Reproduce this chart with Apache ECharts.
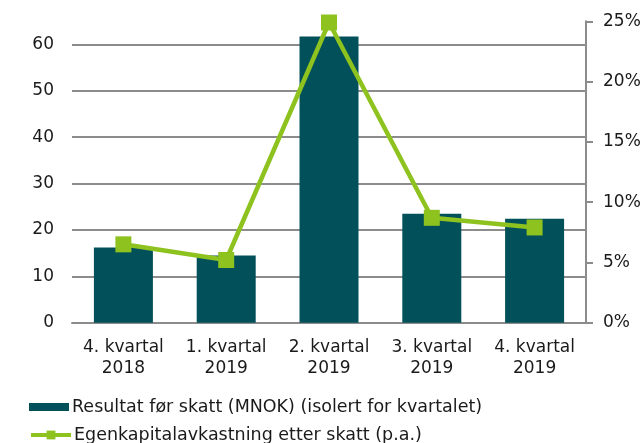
<!DOCTYPE html>
<html>
<head>
<meta charset="utf-8">
<script src="https://cdn.jsdelivr.net/npm/echarts@6/dist/echarts.min.js"></script>
<style>html,body{margin:0;padding:0;background:#fff;}#c{width:644px;height:443px;}</style>
</head>
<body>
<div id="c"></div>
<script>
const categories = ['4. kvartal\n2018', '1. kvartal\n2019', '2. kvartal\n2019', '3. kvartal\n2019', '4. kvartal\n2019'];
const resultat = [16.2, 14.5, 61.7, 23.5, 22.4];
const egenkapital = [6.5, 5.2, 24.9, 8.7, 7.9];
const barName = 'Resultat før skatt (MNOK) (isolert for kvartalet)';
const lineName = 'Egenkapitalavkastning etter skatt (p.a.)';

const FONT = 'DejaVu Sans';
const legendText = {fontFamily: FONT, fontSize: 17.5, color: '#1a1a1a', padding: [0, 0, 0, -2]};
const chart = echarts.init(document.getElementById('c'), null, {renderer: 'canvas'});
chart.setOption({
  animation: false,
  backgroundColor: '#fff',
  textStyle: {fontFamily: FONT},
  grid: {left: 72, right: 58, top: 21.3, bottom: 120.3, containLabel: false},
  legend: [
    {
      left: 29, top: 398, itemWidth: 40, itemHeight: 8, padding: 0,
      textStyle: legendText,
      data: [{name: barName, icon: 'rect'}]
    },
    {
      left: 29, top: 426, itemWidth: 40, itemHeight: 11, padding: 0,
      textStyle: legendText,
      lineStyle: {width: 4},
      data: [{name: lineName}]
    }
  ],
  xAxis: {
    type: 'category',
    data: categories,
    axisLine: {show: true, lineStyle: {color: '#8c8c8c', width: 2}},
    axisTick: {show: false},
    axisLabel: {fontFamily: FONT, fontSize: 17, color: '#1a1a1a', margin: 14, lineHeight: 21, interval: 0}
  },
  yAxis: [
    {
      type: 'value', min: 0, max: 65, interval: 10,
      axisLine: {show: false}, axisTick: {show: false},
      axisLabel: {fontFamily: FONT, fontSize: 17, color: '#1a1a1a', margin: 18, showMaxLabel: false,
        formatter: v => (v > 60 ? '' : String(v))},
      splitLine: {show: true, showMaxLine: false, lineStyle: {color: '#8c8c8c', width: 2}}
    },
    {
      type: 'value', min: 0, max: 25, interval: 5, position: 'right',
      axisLine: {show: true, lineStyle: {color: '#8c8c8c', width: 2}},
      axisTick: {show: true, inside: false, length: 7, lineStyle: {color: '#8c8c8c', width: 2}},
      axisLabel: {fontFamily: FONT, fontSize: 17, color: '#1a1a1a', margin: 17, formatter: '{value}%'},
      splitLine: {show: false}
    }
  ],
  series: [
    {
      name: barName, type: 'bar', data: resultat, yAxisIndex: 0,
      barWidth: 59,
      itemStyle: {color: '#02505a'},
      z: 2
    },
    {
      name: lineName, type: 'line', data: egenkapital, yAxisIndex: 1,
      symbol: 'rect', symbolSize: 16,
      lineStyle: {color: '#8dc21f', width: 4.5},
      itemStyle: {color: '#8dc21f'},
      z: 3
    }
  ]
});
</script>
</body>
</html>
